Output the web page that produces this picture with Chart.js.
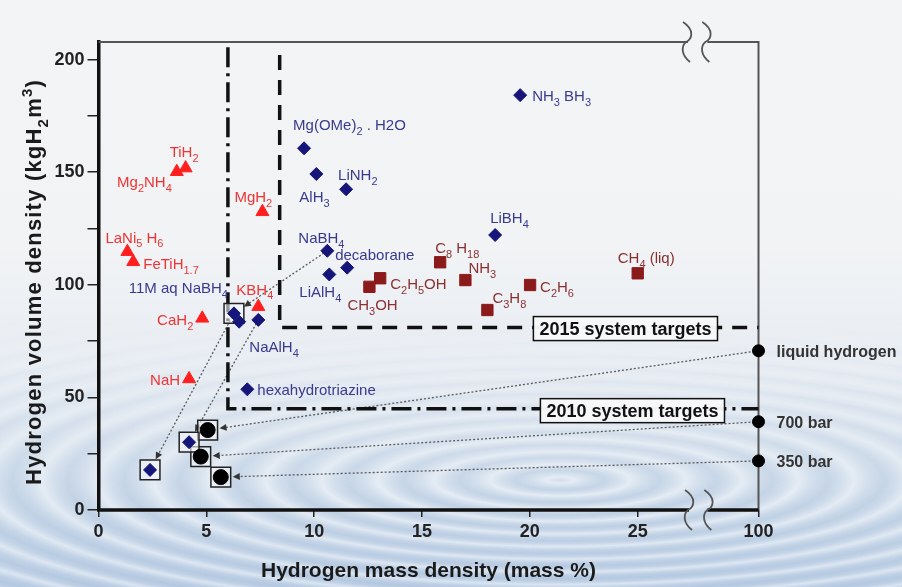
<!DOCTYPE html>
<html>
<head>
<meta charset="utf-8">
<script src="https://cdn.jsdelivr.net/npm/chart.js@4/dist/chart.umd.min.js"></script>
<style>
  html, body { margin: 0; padding: 0; }
  body {
    width: 902px; height: 587px; overflow: hidden; position: relative;
    background: linear-gradient(180deg, #f3f4f6 0%, #f1f3f5 42%, #e8edf3 62%, #d4e0ed 80%, #bccfe5 100%);
  }
  .water {
    position: absolute; left: 0; top: 320px; width: 902px; height: 267px;
    background: repeating-radial-gradient(ellipse 420px 95px at 560px 160px,
      rgba(255,255,255,0) 0px, rgba(255,255,255,0.45) 14px, rgba(255,255,255,0) 30px,
      rgba(130,160,200,0.15) 44px, rgba(255,255,255,0) 56px);
    -webkit-mask-image: linear-gradient(to bottom, rgba(0,0,0,0), rgba(0,0,0,1) 65%);
    mask-image: linear-gradient(to bottom, rgba(0,0,0,0), rgba(0,0,0,1) 65%);
  }
  canvas { position: absolute; left: 0; top: 0; }
</style>
</head>
<body>
<div class="water"></div>
<canvas id="chart" width="902" height="587"></canvas>
<script>
const massTicks = [0, 5, 10, 15, 20, 25, 100];
const volumeTicks = [0, 25, 50, 75, 100, 125, 150, 175, 200];

// metal hydrides (red triangles)
const metalNames = ['TiH_{2}', 'Mg_{2}NH_{4}', 'MgH_{2}', 'LaNi_{5} H_{6}', 'FeTiH_{1.7}', 'KBH_{4}', 'CaH_{2}', 'NaH'];
const metalMass = [4.04, 3.63, 7.6, 1.34, 1.61, 7.41, 4.81, 4.2];
const metalVolume = [151.8, 150.2, 132.4, 114.7, 110.2, 90.3, 85.1, 58.2];

// complex and chemical hydrides (navy diamonds)
const chemNames = ['NH_{3} BH_{3}', 'Mg(OMe)_{2} . H2O', 'AlH_{3}', 'LiNH_{2}', 'LiBH_{4}', 'NaBH_{4}', 'LiAlH_{4}', 'decaborane', '11M aq NaBH_{4}', '', 'NaAlH_{4}', 'hexahydrotriazine'];
const chemMass = [19.55, 9.53, 10.1, 11.48, 18.39, 10.61, 10.7, 11.53, 6.28, 6.52, 7.41, 6.9];
const chemVolume = [184.2, 160.6, 149.2, 142.4, 122.1, 115.1, 104.6, 107.6, 87.3, 83.6, 84.4, 53.6];

// liquid carriers (dark red squares)
const liquidNames = ['C_{8} H_{18}', 'NH_{3}', 'C_{3}H_{8}', 'C_{2}H_{6}', 'CH_{4} (liq)', 'C_{2}H_{5}OH', 'CH_{3}OH'];
const liquidMass = [15.84, 17.01, 18.03, 20.01, 25.0, 13.06, 12.56];
const liquidVolume = [110, 102.1, 88.8, 99.9, 105.1, 102.9, 99.1];

// pure hydrogen at 100 mass %
const refNames = ['liquid hydrogen', '700 bar', '350 bar'];
const refMass = [100, 100, 100];
const refVolume = [70.7, 39.2, 21.8];

// tank systems (boxed circles) and boxed diamond systems
const tankMass = [5.06, 4.74, 5.67];
const tankVolume = [35.5, 23.7, 14.6];
const systemMass = [2.39, 4.2];
const systemVolume = [17.8, 30.1];

// DOE targets
const targetNames = ['2010 system targets', '2015 system targets'];
const targetMass = [6, 8.4];
const targetVolume = [45, 81];
const targetTop = [205.5, 202];

// dotted arrows: [from dataset, index, to dataset, index]
const arrowLinks = [
  ['ref', 0, 'tank', 0],
  ['ref', 1, 'tank', 1],
  ['ref', 2, 'tank', 2],
  ['chem', 5, 'chem', 8],
  ['chem', 8, 'system', 0],
  ['chem', 10, 'system', 1]
];

const FONT = '"Liberation Sans", Arial, Helvetica, sans-serif';
const BREAK_AT = 25;
const BREAK_SQUEEZE = 5.6 / 75;
const massBreak = [55, 67];

// label offsets from the mark: [dx, dy to baseline, align]
const labelPlacement = {
  'TiH_{2}': [-16, -11, 'left'],
  'Mg_{2}NH_{4}': [-5, 15, 'right'],
  'MgH_{2}': [-28, -10, 'left'],
  'LaNi_{5} H_{6}': [-22, -9, 'left'],
  'FeTiH_{1.7}': [10, 7, 'left'],
  'KBH_{4}': [-22, -12, 'left'],
  'CaH_{2}': [-9, 7, 'right'],
  'NaH': [-9, 6, 'right'],
  'NH_{3} BH_{3}': [12, 6, 'left'],
  'Mg(OMe)_{2} . H2O': [-11, -18, 'left'],
  'AlH_{3}': [-17, 28, 'left'],
  'LiNH_{2}': [-8, -9, 'left'],
  'LiBH_{4}': [-5, -12, 'left'],
  'NaBH_{4}': [-29, -8, 'left'],
  'LiAlH_{4}': [-30, 23, 'left'],
  'decaborane': [-12, -8, 'left'],
  '11M aq NaBH_{4}': [-6, -20, 'right'],
  'NaAlH_{4}': [-9, 32, 'left'],
  'hexahydrotriazine': [10, 6, 'left'],
  'C_{8} H_{18}': [-5, -9, 'left'],
  'NH_{3}': [3, -7, 'left'],
  'C_{3}H_{8}': [5, -7, 'left'],
  'C_{2}H_{6}': [10, 7, 'left'],
  'CH_{4} (liq)': [-20, -10, 'left'],
  'C_{2}H_{5}OH': [10, 11, 'left'],
  'CH_{3}OH': [-22, 23, 'left']
};

// linear axis with the 25..100 stretch squeezed behind a break
class BrokenScale extends Chart.LinearScale {
  squeeze(v) {
    return v <= BREAK_AT ? v : BREAK_AT + (v - BREAK_AT) * BREAK_SQUEEZE;
  }
  getPixelForValue(value) {
    const lo = this.squeeze(this.min);
    const hi = this.squeeze(this.max);
    return this.getPixelForDecimal((this.squeeze(value) - lo) / (hi - lo));
  }
}
BrokenScale.id = 'broken';
BrokenScale.defaults = Chart.LinearScale.defaults;
Chart.register(BrokenScale);

const points = (xs, ys) => xs.map((x, i) => ({x, y: ys[i]}));

function richSegments(str) {
  const out = [];
  const re = /([_^])\{([^}]*)\}/g;
  let last = 0;
  let m;
  while ((m = re.exec(str))) {
    if (m.index > last) out.push({t: str.slice(last, m.index), s: 0});
    out.push({t: m[2], s: m[1] === '_' ? 1 : -1});
    last = re.lastIndex;
  }
  if (last < str.length) out.push({t: str.slice(last), s: 0});
  return out;
}

function drawRich(ctx, str, x, y, size, weight, align) {
  const segs = richSegments(str);
  const fontFor = (s) => `${weight} ${s ? Math.round(size * 0.7) : size}px ${FONT}`;
  let w = 0;
  segs.forEach((g) => {
    ctx.font = fontFor(g.s);
    g.w = ctx.measureText(g.t).width;
    w += g.w;
  });
  let cx = align === 'right' ? x - w : align === 'center' ? x - w / 2 : x;
  ctx.textAlign = 'left';
  ctx.textBaseline = 'alphabetic';
  segs.forEach((g) => {
    ctx.font = fontFor(g.s);
    const dy = g.s === 1 ? size * 0.32 : g.s === -1 ? -size * 0.42 : 0;
    ctx.fillText(g.t, cx, y + dy);
    cx += g.w;
  });
}

function breakMark(ctx, x, yc) {
  ctx.beginPath();
  ctx.moveTo(x - 3, yc - 20);
  ctx.bezierCurveTo(x + 9, yc - 12, x + 6, yc - 3, x, yc);
  ctx.bezierCurveTo(x - 5, yc + 4, x - 5, yc + 13, x + 4, yc + 20);
  ctx.stroke();
}

function datasetPoint(chart, key, index) {
  const i = chart.data.datasets.findIndex((d) => d.key === key);
  return chart.getDatasetMeta(i).data[index];
}

const framePlugin = {
  id: 'frame',
  beforeDatasetsDraw(chart) {
    const {ctx, chartArea: a, scales: {x}} = chart;
    const b0 = x.getPixelForValue(massBreak[0]);
    const b1 = x.getPixelForValue(massBreak[1]);
    ctx.save();
    ctx.lineCap = 'butt';
    // top and right border
    ctx.strokeStyle = '#555';
    ctx.lineWidth = 2;
    ctx.beginPath();
    ctx.moveTo(a.left, a.top); ctx.lineTo(b0 + 2, a.top);
    ctx.moveTo(b1 + 2, a.top); ctx.lineTo(a.right, a.top); ctx.lineTo(a.right, a.bottom);
    ctx.stroke();
    // bottom axis
    ctx.strokeStyle = '#111';
    ctx.lineWidth = 3.5;
    ctx.beginPath();
    ctx.moveTo(a.left - 1.5, a.bottom); ctx.lineTo(b0 + 3, a.bottom);
    ctx.moveTo(b1 + 2, a.bottom); ctx.lineTo(a.right, a.bottom);
    ctx.stroke();
    ctx.strokeStyle = '#555';
    ctx.lineWidth = 1.8;
    [b0, b1].forEach((bx) => {
      breakMark(ctx, bx, a.top);
      breakMark(ctx, bx + 2, a.bottom);
    });
    // dotted arrows
    ctx.strokeStyle = '#5a5a5a';
    ctx.fillStyle = '#333';
    ctx.lineWidth = 1.3;
    arrowLinks.forEach(([fk, fi, tk, ti]) => {
      const s = datasetPoint(chart, fk, fi);
      const t = datasetPoint(chart, tk, ti);
      const dx = t.x - s.x;
      const dy = t.y - s.y;
      const len = Math.hypot(dx, dy);
      const ux = dx / len;
      const uy = dy / len;
      const gap = 12;
      const ex = t.x - ux * gap;
      const ey = t.y - uy * gap;
      ctx.setLineDash([2, 2]);
      ctx.beginPath();
      ctx.moveTo(s.x, s.y);
      ctx.lineTo(ex - ux * 5, ey - uy * 5);
      ctx.stroke();
      ctx.setLineDash([]);
      ctx.beginPath();
      ctx.moveTo(ex, ey);
      ctx.lineTo(ex - ux * 7 - uy * 3.5, ey - uy * 7 + ux * 3.5);
      ctx.lineTo(ex - ux * 7 + uy * 3.5, ey - uy * 7 - ux * 3.5);
      ctx.closePath();
      ctx.fill();
    });
    ctx.restore();
  }
};

const labelPlugin = {
  id: 'labels',
  afterDatasetsDraw(chart) {
    const {ctx, chartArea: a, scales: {y}} = chart;
    ctx.save();
    chart.data.datasets.forEach((ds, di) => {
      if (!ds.labels) return;
      const meta = chart.getDatasetMeta(di);
      ds.labels.forEach((name, i) => {
        if (!name) return;
        const el = meta.data[i];
        const [dx, dy, align] = labelPlacement[name] || [18, 6, 'left'];
        ctx.fillStyle = ds.labelColor;
        drawRich(ctx, name, el.x + dx, el.y + dy, ds.labelSize, ds.labelWeight, align);
      });
    });
    // target boxes
    const boxRight = [a.right - 34, a.right - 41];
    const boxDy = [2, 1];
    targetNames.forEach((name, i) => {
      const py = y.getPixelForValue(targetVolume[i]) + boxDy[i];
      ctx.font = `bold 18px ${FONT}`;
      const w = ctx.measureText(name).width + 12;
      const h = 24;
      const left = boxRight[i] - w;
      ctx.fillStyle = 'rgba(247,248,250,0.97)';
      ctx.fillRect(left, py - h / 2, w, h);
      ctx.strokeStyle = '#111';
      ctx.lineWidth = 1.5;
      ctx.strokeRect(left, py - h / 2, w, h);
      ctx.fillStyle = '#111';
      ctx.textAlign = 'center';
      ctx.textBaseline = 'middle';
      ctx.fillText(name, left + w / 2, py + 1);
    });
    // y axis title
    ctx.save();
    ctx.translate(33, (a.top + a.bottom) / 2 + 6);
    ctx.rotate(-Math.PI / 2);
    ctx.fillStyle = '#1a1a1a';
    ctx.letterSpacing = '1.2px';
    drawRich(ctx, 'Hydrogen volume density (kgH_{2}m^{3})', 0, 8, 22, 'bold', 'center');
    ctx.restore();
    ctx.restore();
  }
};

const tickFont = {family: FONT, size: 18, weight: 'bold'};

new Chart(document.getElementById('chart'), {
  type: 'scatter',
  data: {
    datasets: [
      {
        key: 'metal',
        data: points(metalMass, metalVolume),
        labels: metalNames, labelColor: '#ee3434', labelSize: 15, labelWeight: 'normal',
        pointStyle: 'triangle', pointRadius: 7.5,
        backgroundColor: '#ff1f1f', borderColor: '#ff1f1f', borderWidth: 1, order: 1
      },
      {
        key: 'chem',
        data: points(chemMass, chemVolume),
        labels: chemNames, labelColor: '#3a3a8e', labelSize: 15, labelWeight: 'normal',
        pointStyle: 'rectRot', pointRadius: 6.5,
        backgroundColor: '#15157a', borderColor: '#15157a', borderWidth: 1, order: 1
      },
      {
        key: 'liquid',
        data: points(liquidMass, liquidVolume),
        labels: liquidNames, labelColor: '#8a3030', labelSize: 15, labelWeight: 'normal',
        pointStyle: 'rect', pointRadius: 8,
        backgroundColor: '#8b1a1a', borderColor: '#8b1a1a', borderWidth: 1, order: 1
      },
      {
        key: 'ref',
        data: points(refMass, refVolume),
        labels: refNames, labelColor: '#333', labelSize: 16, labelWeight: 'bold',
        pointStyle: 'circle', pointRadius: 6,
        backgroundColor: '#000', borderColor: '#000', clip: false, order: 1
      },
      {
        key: 'tank',
        data: points(tankMass, tankVolume),
        pointStyle: 'circle', pointRadius: 7.5,
        backgroundColor: '#000', borderColor: '#000', order: 1
      },
      {
        key: 'system',
        data: points(systemMass, systemVolume),
        pointStyle: 'rectRot', pointRadius: 6.5,
        backgroundColor: '#15157a', borderColor: '#15157a', order: 1
      },
      {
        key: 'boxes',
        data: [...points(tankMass, tankVolume), ...points(systemMass, systemVolume), {x: chemMass[8], y: chemVolume[8]}],
        pointStyle: 'rect', pointRadius: 14,
        backgroundColor: 'rgba(245,247,250,0.6)', borderColor: '#222', borderWidth: 1.5, order: 5
      },
      {
        key: 'target2010',
        data: [{x: targetMass[0], y: targetTop[0]}, {x: targetMass[0], y: targetVolume[0]}, {x: 100, y: targetVolume[0]}],
        showLine: true, pointRadius: 0, borderColor: '#111', borderWidth: 3.5,
        borderDash: [20, 6, 3, 6], clip: false, order: 10
      },
      {
        key: 'target2015',
        data: [{x: targetMass[1], y: targetTop[1]}, {x: targetMass[1], y: targetVolume[1]}, {x: 100, y: targetVolume[1]}],
        showLine: true, pointRadius: 0, borderColor: '#111', borderWidth: 3.5,
        borderDash: [15, 10], clip: false, order: 10
      }
    ]
  },
  options: {
    responsive: false,
    animation: false,
    devicePixelRatio: 1,
    layout: {padding: {top: 42, right: 143.5, left: 0, bottom: 0}},
    plugins: {legend: {display: false}, tooltip: {enabled: false}},
    scales: {
      x: {
        type: 'broken',
        min: 0,
        max: 100,
        afterBuildTicks: (scale) => { scale.ticks = massTicks.map((value) => ({value})); },
        afterFit: (scale) => { scale.height = 77; },
        grid: {drawOnChartArea: false, drawTicks: true, tickLength: 7, color: '#222', lineWidth: 1.5},
        border: {display: false},
        ticks: {autoSkip: false, maxRotation: 0, padding: 4, color: '#222', font: tickFont},
        title: {
          display: true, text: 'Hydrogen mass density (mass %)', color: '#1a1a1a',
          font: {family: FONT, size: 21, weight: 'bold'}, padding: {top: 0, bottom: 3}
        }
      },
      y: {
        min: 0,
        max: 207.8,
        afterBuildTicks: (scale) => { scale.ticks = volumeTicks.map((value) => ({value})); },
        afterFit: (scale) => { scale.width = 98.5; },
        grid: {drawOnChartArea: false, drawTicks: true, tickLength: 11, color: '#222', lineWidth: 1.5},
        border: {display: true, color: '#111', width: 3.5},
        ticks: {
          autoSkip: false, padding: 3, color: '#222', font: tickFont,
          callback: (value) => (value % 50 === 0 ? value : '')
        }
      }
    }
  },
  plugins: [framePlugin, labelPlugin]
});
</script>
</body>
</html>
